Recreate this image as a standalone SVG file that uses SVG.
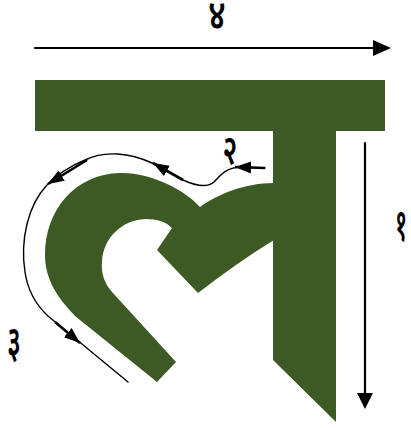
<svg xmlns="http://www.w3.org/2000/svg" width="411" height="428" viewBox="0 0 411 428">
<style>
.g{fill:#3d5a24}
.ln{fill:none;stroke:#000;stroke-width:1.4;stroke-linecap:round}
.th{fill:none;stroke:#000;stroke-width:2.6}
.ah{fill:#000}
.lb{font-family:"Noto Sans Devanagari","Noto Sans","DejaVu Sans","Lohit Devanagari",sans-serif;font-size:32px;font-weight:600;fill:#000;text-anchor:middle}
</style>
<defs>
<marker id="head" markerUnits="userSpaceOnUse" markerWidth="20" markerHeight="14" refX="16" refY="6" orient="auto">
<path d="M0,0 L16,6 L0,12 Z" fill="#000"/>
</marker>
</defs>
<rect width="411" height="428" fill="#fff"/>
<g id="bar">
<rect class="g" x="35" y="80" width="350" height="51"/>
</g>
<g id="stem">
<polygon class="g" points="273,130 336,130 336,422 273,360"/>
</g>
<g id="hook">
<path class="g" d="M274,183 C245,183 218,194 200,207 C185,190 150,172 120,173 C75,174 45,210 45,255 C45,280 58,298 75,316 L157,382 L176,362 L112,292 C104,283 101,272 102,262 C103,238 122,220 145,219 C158,219 166,222 172,228 L157,250 L198,293 Q238,262 274,240 Z"/>
</g>
<g id="connectors">
<line class="ln" x1="35" y1="48" x2="376" y2="48" style="stroke-width:2.2"/>
<polygon class="ah" points="373,40 373,56 391,48"/>
<line class="ln" x1="365" y1="143" x2="365" y2="395" style="stroke-width:2.2"/>
<polygon class="ah" points="357,393 373,393 365,409"/>
<path class="ln" d="M265,168 L240,167 C225,168 220,176 214,182 C207,188 196,186 183,180 C170,173 160,167 152,163 C130,153 105,150 85,160 C70,166 55,176 47,185 C28,205 20,240 25,272 C28,292 36,305 48,316 L128,382"/>
<path class="th" d="M265,168 L235,167" marker-end="url(#head)"/>
<path class="th" d="M183,180 L153,163" marker-end="url(#head)"/>
<path class="th" d="M87,160 L48,184" marker-end="url(#head)"/>
<path class="th" d="M55,322 L80,343" marker-end="url(#head)"/>
</g>
<g id="labels">
<text class="lb" transform="translate(217,29) scale(1,1.3)">४</text>
<text class="lb" transform="translate(230,164) scale(0.85,1.3)">२</text>
<text class="lb" transform="translate(401,240) scale(0.7,1.4)">१</text>
<text class="lb" transform="translate(14,357) scale(0.8,1.4)">३</text>
</g>
</svg>
